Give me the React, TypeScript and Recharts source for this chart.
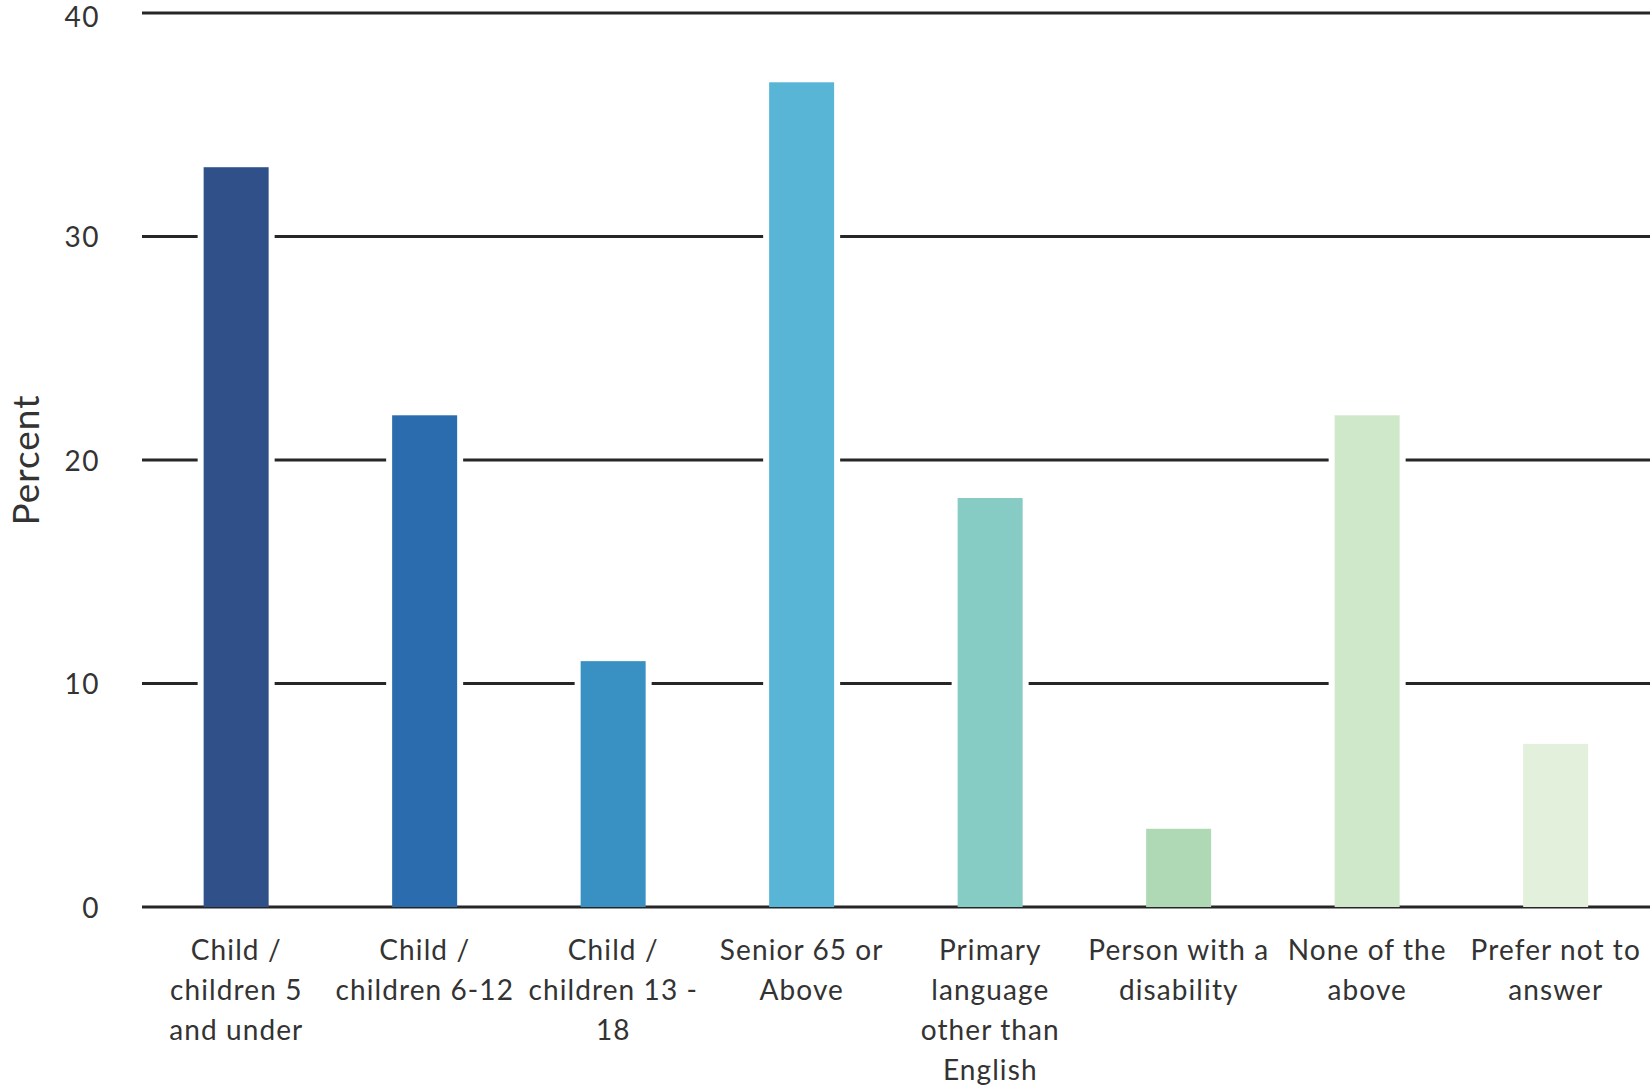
import { BarChart, Bar, XAxis, YAxis, CartesianGrid, Cell, Label } from "recharts"

const categories = [
  "Child /\nchildren 5\nand under",
  "Child /\nchildren 6-12",
  "Child /\nchildren 13 -\n18",
  "Senior 65 or\nAbove",
  "Primary\nlanguage\nother than\nEnglish",
  "Person with a\ndisability",
  "None of the\nabove",
  "Prefer not to\nanswer",
]
const percents = [33.1, 22.0, 11.0, 36.9, 18.3, 3.5, 22.0, 7.3]
const barColors = ["#30508a", "#2a6cae", "#3990c2", "#58b5d6", "#86cbc4", "#aed9b4", "#cfe8c9", "#e2f0dc"]
const yTicks = [0, 10, 20, 30, 40]

const data = categories.map((name, i) => ({ name, value: percents[i] }))

const FONT = "Lato, 'Open Sans', sans-serif"

// white halo on the sides so gridlines break around each bar
const HaloBar = (props: any) => {
  const { x, y, width, height, fill } = props
  return (
    <g>
      <rect x={x - 6} y={y} width={width + 12} height={Math.max(height - 2, 0)} fill="#fff" />
      <rect x={x} y={y} width={width} height={height} fill={fill} />
    </g>
  )
}

const CategoryTick = ({ x, y, payload }: any) => {
  const lines = String(payload.value).split("\n")
  return (
    <text x={x} y={y} textAnchor="middle" fill="#333" fontSize={28} letterSpacing={1.1} fontFamily={FONT}>
      {lines.map((l, i) => (
        <tspan key={i} x={x} dy={i === 0 ? 53 : 40}>
          {l}
        </tspan>
      ))}
    </text>
  )
}

export default function App() {
  return (
    <div style={{ position: "absolute", left: 0, top: 0, background: "#fff" }}>
      <BarChart
        width={1650}
        height={1090}
        data={data}
        margin={{ top: 13, right: 0, bottom: 0, left: 0 }}
        barCategoryGap="32.7%"
      >
        <CartesianGrid vertical={false} stroke="#262626" strokeWidth={3} />
        <XAxis
          dataKey="name"
          interval={0}
          axisLine={false}
          tickLine={false}
          tickSize={0}
          tickMargin={0}
          height={183}
          tick={<CategoryTick />}
        />
        <YAxis
          domain={[0, 40]}
          ticks={yTicks}
          width={142}
          axisLine={false}
          tickLine={false}
          tickSize={0}
          tickMargin={42}
          tick={{ fontSize: 28, fill: "#333", fontFamily: FONT, letterSpacing: 1.5, dy: 1 }}
        >
          <Label
            value="Percent"
            angle={-90}
            position="insideLeft"
            offset={26}
            style={{ fontSize: 37, fill: "#333", fontFamily: FONT, textAnchor: "middle", letterSpacing: 1 }}
          />
        </YAxis>
        <Bar dataKey="value" isAnimationActive={false} shape={<HaloBar />}>
          {data.map((d, i) => (
            <Cell key={d.name} fill={barColors[i]} />
          ))}
        </Bar>
      </BarChart>
    </div>
  )
}
